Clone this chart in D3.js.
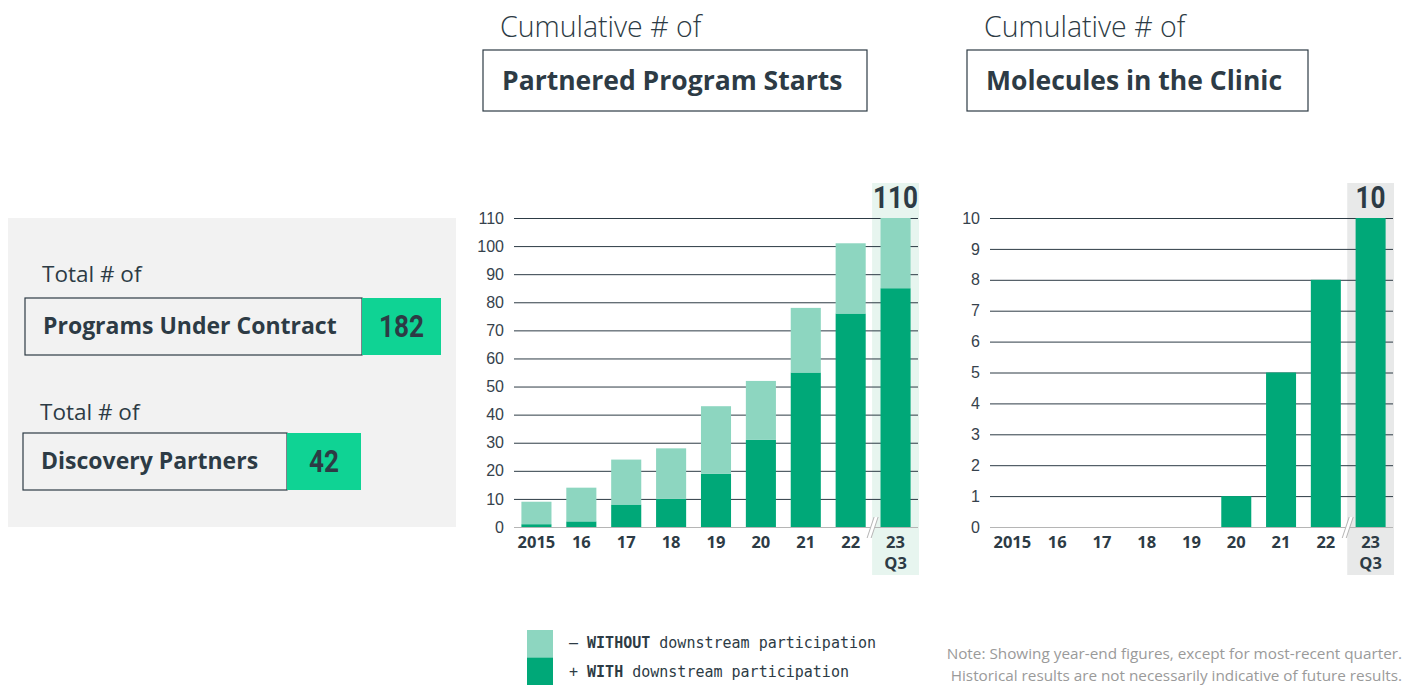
<!DOCTYPE html>
<html>
<head>
<meta charset="utf-8">
<title>Partnered Program Starts and Molecules in the Clinic</title>
<style>
  body { margin: 0; background: #fff; }
  svg { display: block; font-family: 'Open Sans', 'Roboto', sans-serif; }
  .tick text { font-size: 16px; fill: #36424c; }
  .num { font-family: 'Roboto', 'Open Sans', sans-serif; font-weight: 700; fill: #2d3b45; }
</style>
</head>
<body>
<svg width="1411" height="692"></svg>
<script src="https://cdn.jsdelivr.net/npm/d3@7/dist/d3.min.js"></script>
<script>
// ---- data ----
let years = ["2015", "16", "17", "18", "19", "20", "21", "22", "23"];
let withDownstream = [1, 2, 8, 10, 19, 31, 55, 76, 85];
let totalStarts = [9, 14, 24, 28, 43, 52, 78, 101, 110];
let molecules = [0, 0, 0, 0, 0, 1, 5, 8, 10];
let startTicks = [0, 10, 20, 30, 40, 50, 60, 70, 80, 90, 100, 110];
let moleculeTicks = [0, 1, 2, 3, 4, 5, 6, 7, 8, 9, 10];
let programsUnderContract = 182;
let discoveryPartners = 42;

let dark = "#2d3b45";
let green = "#00a878";
let lightGreen = "#8dd6c0";
let brightGreen = "#0fd394";

let svg = d3.select("svg");

// condensed bold number, squeezed to the width seen in the picture
function bigNumber(x, y, value, w) {
  svg.append("text").attr("class", "num").attr("x", x - w / 2).attr("y", y)
    .attr("textLength", w).attr("lengthAdjust", "spacingAndGlyphs")
    .text(value).style("font-size", "31px");
}

// ---- left summary panel ----
svg.append("rect").attr("x", 8).attr("y", 218).attr("width", 448).attr("height", 309).attr("fill", "#f2f2f2");

function statBox(label, value, x, y, gx, gw, ly) {
  svg.append("text").attr("x", x + 17).attr("y", ly).text("Total # of")
    .style("font-size", "22.5px").style("fill", dark);
  svg.append("rect").attr("x", x).attr("y", y).attr("width", gx - x).attr("height", 57)
    .attr("fill", "none").attr("stroke", dark).attr("stroke-width", 1.2);
  svg.append("text").attr("x", x + 18).attr("y", y + 36).text(label)
    .style("font-size", "23px").style("font-weight", 700).style("fill", dark);
  svg.append("rect").attr("x", gx).attr("y", y).attr("width", gw).attr("height", 57).attr("fill", brightGreen);
  bigNumber(gx + gw / 2, y + 39, value, String(value).length * 15);
}
statBox("Programs Under Contract", programsUnderContract, 25, 298, 362, 79, 282);
statBox("Discovery Partners", discoveryPartners, 23, 433, 287, 74, 420);

// ---- chart titles ----
function title(sub, main, x, w) {
  svg.append("text").attr("x", x + 17).attr("y", 37).text(sub)
    .style("font-size", "28.5px").style("font-weight", 300).style("fill", dark);
  svg.append("rect").attr("x", x).attr("y", 50).attr("width", w).attr("height", 61)
    .attr("fill", "none").attr("stroke", dark).attr("stroke-width", 1.2);
  svg.append("text").attr("x", x + 19).attr("y", 90).text(main)
    .style("font-size", "26.5px").style("font-weight", 700).style("fill", dark);
}
title("Cumulative # of", "Partnered Program Starts", 483, 384);
title("Cumulative # of", "Molecules in the Clinic", 967, 341);

// ---- bar chart helper ----
function chart(opts) {
  let x = d3.scaleBand().domain(years).range([opts.x0, opts.x1]).paddingInner(0.33).paddingOuter(0.165);
  let y = d3.scaleLinear().domain([0, opts.max]).range([527, 218]);
  let g = svg.append("g");

  // highlight band for latest quarter
  let last = years[years.length - 1];
  let bx = x(last) - x.step() * 0.165 - 1;
  g.append("rect").attr("x", bx).attr("y", 183).attr("width", opts.x1 - bx + 1).attr("height", 392)
    .attr("fill", opts.band);

  // grid + y ticks
  let axis = g.append("g").attr("transform", `translate(${opts.x0},0)`)
    .call(d3.axisLeft(y).tickValues(opts.ticks).tickSize(-(opts.x1 - opts.x0)).tickPadding(10));
  axis.select(".domain").remove();
  axis.selectAll(".tick line").attr("stroke", dark).attr("stroke-width", 1);
  axis.selectAll(".tick").filter(d => d === 0).select("line").attr("stroke", "#b5b5b5");

  // bars
  opts.series.forEach(s => {
    g.selectAll(null).data(years).join("rect")
      .attr("x", d => x(d))
      .attr("width", x.bandwidth())
      .attr("y", (d, i) => y(s.hi[i]))
      .attr("height", (d, i) => y(s.lo ? s.lo[i] : 0) - y(s.hi[i]))
      .attr("fill", s.color);
  });

  // break mark
  let mx = x(last) - x.step() * 0.165;
  g.append("path").attr("d", `M${mx - 6},538 L${mx + 1},517 L${mx + 5},517 L${mx - 2},538 Z`).attr("fill", "#fff");
  g.append("path").attr("d", `M${mx - 6},538 L${mx + 1},517 M${mx - 2},538 L${mx + 5},517`)
    .attr("stroke", "#b5b5b5").attr("stroke-width", 1);

  // x labels
  g.selectAll(null).data(years).join("text")
    .attr("x", d => x(d) + x.bandwidth() / 2).attr("y", 548)
    .attr("text-anchor", "middle").text(d => d)
    .style("font-size", "16.5px").style("font-weight", 700).style("fill", dark);
  g.append("text").attr("x", x(last) + x.bandwidth() / 2).attr("y", 569)
    .attr("text-anchor", "middle").text("Q3")
    .style("font-size", "16.5px").style("font-weight", 700).style("fill", dark);

  // top value label
  bigNumber(x(last) + x.bandwidth() / 2, 208, opts.top, String(opts.top).length * 15);
}

chart({
  x0: 514, x1: 918, max: 110, ticks: startTicks, band: "#e7f5ef",
  top: totalStarts[totalStarts.length - 1],
  series: [
    { hi: withDownstream, color: green },
    { lo: withDownstream, hi: totalStarts, color: lightGreen }
  ]
});

chart({
  x0: 990, x1: 1393, max: 10, ticks: moleculeTicks, band: "#e8e9e9",
  top: molecules[molecules.length - 1],
  series: [{ hi: molecules, color: green }]
});

// ---- legend ----
let legendItems = [
  { sign: "–", strong: "WITHOUT", rest: " downstream participation", color: lightGreen },
  { sign: "+", strong: "WITH", rest: " downstream participation", color: green }
];
legendItems.forEach((d, i) => {
  svg.append("rect").attr("x", 527).attr("y", 630 + i * 27.5).attr("width", 26).attr("height", 27.5).attr("fill", d.color);
  let t = svg.append("text").attr("x", 569).attr("y", 648 + i * 29)
    .style("font-family", "'DejaVu Sans Mono', monospace").style("font-size", "15px").style("fill", dark);
  t.append("tspan").text(d.sign + " ");
  t.append("tspan").text(d.strong).style("font-weight", 700);
  t.append("tspan").text(d.rest);
});

// ---- note ----
let notes = ["Note: Showing year-end figures, except for most-recent quarter.",
             "Historical results are not necessarily indicative of future results."];
notes.forEach((n, i) => {
  svg.append("text").attr("x", 1402).attr("y", 659 + i * 22).attr("text-anchor", "end").text(n)
    .style("font-size", "15.3px").style("fill", "#9a9a9a");
});
</script>
</body>
</html>
